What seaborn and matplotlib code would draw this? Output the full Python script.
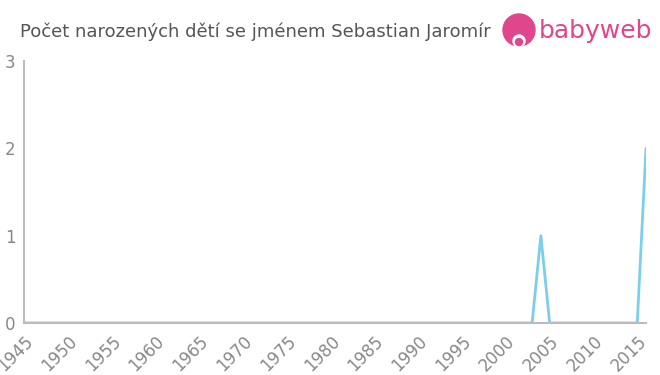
import numpy as np
import pandas as pd
import matplotlib
matplotlib.use("Agg")
import matplotlib.pyplot as plt
import seaborn as sns
from matplotlib.patches import Circle

years = list(range(1945, 2017))
counts = [0] * len(years)
nonzero = {2004: 1, 2016: 2}
for y, v in nonzero.items():
    counts[years.index(y)] = v
xticks = list(range(1945, 2016, 5))
yticks = [0, 1, 2, 3]
title = "Počet narozených dětí se jménem Sebastian Jaromír"

df = pd.DataFrame({"rok": years, "pocet": counts})

sns.set_theme(style="white")
plt.rcParams['font.family'] = ['DejaVu Sans']

fig = plt.figure(figsize=(6.6, 3.75), dpi=100)
ax = fig.add_axes([24/660, 52/375, 622/660, 262/375])
sns.lineplot(data=df, x="rok", y="pocet", ax=ax, color="#7ccfec", linewidth=2)

ax.set_xlim(1945, 2016)
ax.set_ylim(0, 3)
ax.set_xticks(xticks)
ax.set_xticklabels([str(t) for t in xticks], rotation=45, ha="right",
                   rotation_mode="anchor", color="#888888", fontsize=12)
ax.set_yticks(yticks)
ax.set_yticklabels([str(t) for t in yticks], color="#888888", fontsize=12)
ax.set_xlabel("")
ax.set_ylabel("")
for s in ["top", "right"]:
    ax.spines[s].set_visible(False)
for s in ["left", "bottom"]:
    ax.spines[s].set_color("#bbbbbb")
    ax.spines[s].set_linewidth(1.5)
ax.tick_params(axis="x", length=5, color="#bbbbbb", width=1.5, pad=2)
ax.tick_params(axis="y", length=4, color="#bbbbbb", width=1.5, pad=2)

fig.text(20/660, 1 - 32/375, title, fontsize=13, color="#555555", va="center", ha="left")

# logo
pink = "#e0468c"
logo_ax = fig.add_axes([495/660, 1 - 55/375, 165/660, 50/375])
logo_ax.set_xlim(495, 660)
logo_ax.set_ylim(55, 5)
logo_ax.axis("off")
logo_ax.add_patch(Circle((519, 30), 16, color=pink))
logo_ax.add_patch(Circle((519, 41), 6, color="white"))
logo_ax.add_patch(Circle((519, 42), 3.5, color=pink))
logo_ax.text(539, 31, "babyweb", fontsize=18, color=pink, va="center", ha="left")

fig.savefig("out.png", dpi=100)
